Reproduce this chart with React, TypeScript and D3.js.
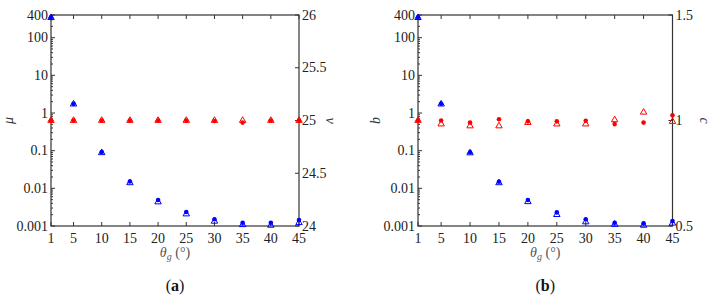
import React, { useEffect, useRef } from "react";
import * as d3 from "d3";

// angle of the grating (deg)
const thetaG = [1, 5, 10, 15, 20, 25, 30, 35, 40, 45];
const xTickValues = [1, 5, 10, 15, 20, 25, 30, 35, 40, 45];

const logTickValues = [0.001, 0.01, 0.1, 1, 10, 100, 400];
const logTickLabels = ["0.001", "0.01", "0.1", "1", "10", "100", "400"];

// panel (a)
const muCircle = [350, 1.75, 0.092, 0.0152, 0.0049, 0.00235, 0.00151, 0.00122, 0.00122, 0.00144];
const muTriangle = [340, 1.72, 0.088, 0.014, 0.00434, 0.00208, 0.00133, 0.00108, 0.00104, 0.00122];
const vCircle = [25, 25, 25, 25, 25, 25, 24.995, 24.98, 25, 25];
const vTriangle = [25, 25, 25, 25, 25, 25, 25, 25, 25, 25];
const vTicks = [24, 24.5, 25, 25.5, 26];

// panel (b)
const bCircle = [350, 1.76, 0.091, 0.015, 0.0049, 0.0023, 0.0015, 0.00122, 0.00118, 0.00135];
const bTriangle = [340, 1.72, 0.087, 0.014, 0.0044, 0.002, 0.00128, 0.0011, 0.00104, 0.00118];
const cCircle = [1.0, 1.0, 0.99, 1.006, 0.996, 0.996, 0.999, 0.983, 0.99, 1.025];
const cTriangle = [1.0, 0.983, 0.974, 0.974, 0.99, 0.983, 0.983, 1.003, 1.039, 0.995];
const cTicks = [0.5, 1, 1.5];

const FONT = "Liberation Serif";
const AXIS = "#333";
const BLUE = "#0000ff";
const RED = "#ff0000";

interface PanelProps {
  left: number;
  right: number;
  tag: string;
  leftLabel: string;
  rightLabel: string;
  leftCircle: number[];
  leftTriangle: number[];
  rightCircle: number[];
  rightTriangle: number[];
  rightDomain: [number, number];
  rightTicks: number[];
}

function Panel(props: PanelProps) {
  const gRef = useRef<SVGGElement | null>(null);

  useEffect(() => {
    if (!gRef.current) return;
    const g = d3.select(gRef.current);
    g.selectAll("*").remove();

    const top = 15;
    const bottom = 226;
    const { left, right } = props;

    const x = d3.scaleLinear().domain([1, 45]).range([left, right]);
    const yL = d3.scaleLog().domain([0.001, 400]).range([bottom, top]);
    const yR = d3.scaleLinear().domain(props.rightDomain).range([bottom, top]);

    const line = (x1: number, y1: number, x2: number, y2: number) =>
      g.append("line")
        .attr("x1", x1).attr("y1", y1).attr("x2", x2).attr("y2", y2)
        .attr("stroke", AXIS).attr("stroke-width", 1);

    // ticks along x, bottom and top, pointing inward
    xTickValues.forEach((t) => {
      line(x(t), bottom, x(t), bottom - 4);
      line(x(t), top, x(t), top + 4);
      g.append("text")
        .attr("x", x(t)).attr("y", bottom + 17)
        .attr("text-anchor", "middle")
        .attr("font-size", 14).attr("font-family", FONT).attr("fill", "#222")
        .text(t);
    });

    // log ticks on the left
    logTickValues.forEach((t, i) => {
      line(left, yL(t), left + 4, yL(t));
      g.append("text")
        .attr("x", left - 3).attr("y", yL(t) + 4.5)
        .attr("text-anchor", "end")
        .attr("font-size", 14).attr("font-family", FONT).attr("fill", "#222")
        .text(logTickLabels[i]);
    });
    const minors: number[] = [];
    for (let e = -3; e <= 2; e++) {
      for (let m = 2; m <= 9; m++) {
        const v = m * Math.pow(10, e);
        if (v < 400 && !logTickValues.includes(v)) minors.push(v);
      }
    }
    minors.forEach((v) => line(left, yL(v), left + 2, yL(v)));

    // linear ticks on the right
    props.rightTicks.forEach((t) => {
      line(right, yR(t), right - 4, yR(t));
      g.append("text")
        .attr("x", right + 3).attr("y", yR(t) + 4.5)
        .attr("text-anchor", "start")
        .attr("font-size", 14).attr("font-family", FONT).attr("fill", "#222")
        .text(t);
    });

    // frame
    g.append("rect")
      .attr("x", left).attr("y", top)
      .attr("width", right - left).attr("height", bottom - top)
      .attr("fill", "none").attr("stroke", AXIS).attr("stroke-width", 1.2);

    const tri = d3.symbol().type(d3.symbolTriangle).size(18);

    const drawSeries = (vals: number[], y: (v: number) => number, color: string) => {
      g.append("g").selectAll("path")
        .data(vals)
        .join("path")
        .attr("transform", (d, i) => `translate(${x(thetaG[i])},${y(d)})`)
        .attr("d", tri)
        .attr("fill", "none")
        .attr("stroke", color).attr("stroke-width", 1);
    };
    const drawDots = (vals: number[], y: (v: number) => number, color: string) => {
      g.append("g").selectAll("circle")
        .data(vals)
        .join("circle")
        .attr("cx", (d, i) => x(thetaG[i]))
        .attr("cy", (d) => y(d))
        .attr("r", 2.3)
        .attr("fill", color);
    };

    drawSeries(props.rightTriangle, yR, RED);
    drawDots(props.rightCircle, yR, RED);
    drawSeries(props.leftTriangle, yL, BLUE);
    drawDots(props.leftCircle, yL, BLUE);

    const cx = (left + right) / 2;

    // axis titles
    g.append("text")
      .attr("transform", `translate(${left - 38},${(top + bottom) / 2}) rotate(-90)`)
      .attr("text-anchor", "middle")
      .attr("font-size", 14).attr("font-style", "italic").attr("font-family", FONT).attr("fill", "#333")
      .text(props.leftLabel);
    g.append("text")
      .attr("transform", `translate(${right + 27},${(top + bottom) / 2}) rotate(90)`)
      .attr("text-anchor", "middle")
      .attr("font-size", 14).attr("font-style", "italic").attr("font-family", FONT).attr("fill", "#333")
      .text(props.rightLabel);

    const xt = g.append("text")
      .attr("x", cx).attr("y", bottom + 31)
      .attr("text-anchor", "middle")
      .attr("font-size", 14).attr("font-family", FONT).attr("fill", "#555");
    xt.append("tspan").attr("font-style", "italic").text("θ");
    xt.append("tspan").attr("font-style", "italic").attr("font-size", 10).attr("dy", 3).text("g");
    xt.append("tspan").attr("dy", -3).text(" (°)");

    const pt = g.append("text")
      .attr("x", cx).attr("y", bottom + 65)
      .attr("text-anchor", "middle")
      .attr("font-size", 16).attr("font-family", FONT).attr("fill", "#111");
    pt.append("tspan").text("(");
    pt.append("tspan").attr("font-weight", "bold").text(props.tag);
    pt.append("tspan").text(")");
  }, [props]);

  return <g ref={gRef} />;
}

export default function App() {
  return (
    <svg
      width={711}
      height={298}
      style={{ position: "absolute", left: 0, top: 0, background: "white" }}
    >
      <Panel
        left={51}
        right={299}
        tag="a"
        leftLabel="μ"
        rightLabel="v"
        leftCircle={muCircle}
        leftTriangle={muTriangle}
        rightCircle={vCircle}
        rightTriangle={vTriangle}
        rightDomain={[24, 26]}
        rightTicks={vTicks}
      />
      <Panel
        left={418}
        right={672.5}
        tag="b"
        leftLabel="b"
        rightLabel="c"
        leftCircle={bCircle}
        leftTriangle={bTriangle}
        rightCircle={cCircle}
        rightTriangle={cTriangle}
        rightDomain={[0.5, 1.5]}
        rightTicks={cTicks}
      />
    </svg>
  );
}
